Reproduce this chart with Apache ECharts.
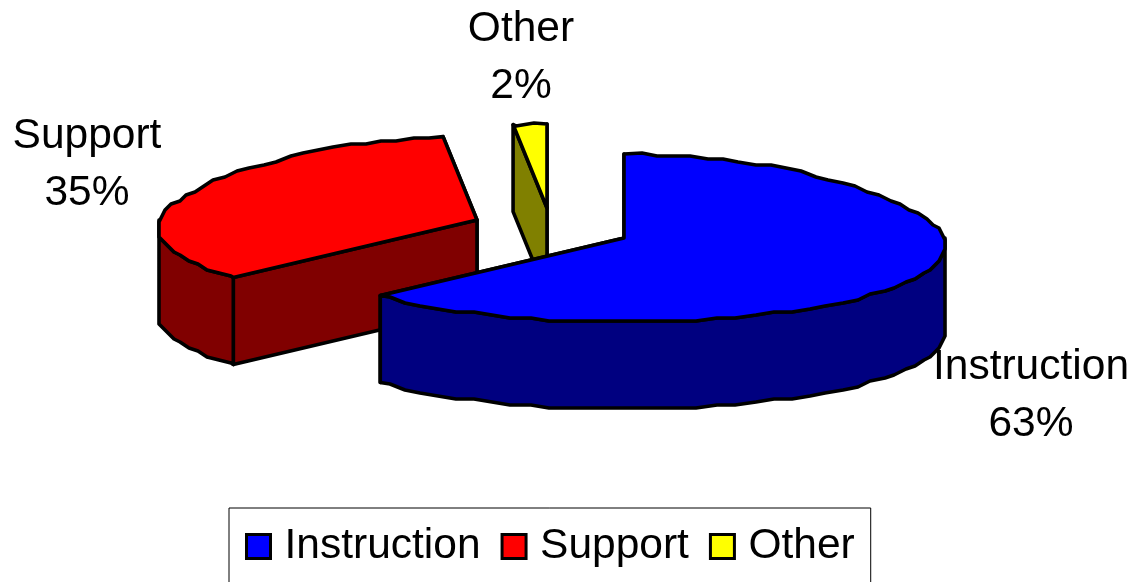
<!DOCTYPE html>
<html>
<head>
<meta charset="utf-8">
<title>Share of spending</title>
<style>
  html, body { margin: 0; padding: 0; background: #fff; }
  #chart { width: 1138px; height: 582px; }
</style>
<script src="https://cdn.jsdelivr.net/npm/echarts@6/dist/echarts.min.js"></script>
</head>
<body>
<div id="chart"></div>
<script>
const categories = ['Instruction', 'Support', 'Other'];
const shares = [63, 35, 2];
const faceColors = ['#0000ff', '#ff0000', '#ffff00'];
const wallColors = ['#000080', '#800000', '#808000'];

// Exploded wedge apexes and the anchor of each data label, in page pixels.
const apexes = [[624, 238], [477, 220], [547, 208]];
const labelAnchors = [[1031, 396], [87, 165], [521, 58]];

const RX_RIGHT = 321;
const RX_LEFT = 318;
const RY = 84;
const DEPTH = 87;
// The front of the disc is drawn a little wider than the back.
const WIDEN_BACK = 0.15;
const WIDEN_FRONT = 0.075;
const ARC_STEP = 3.5;       // degrees between outline vertices
const GRID = 3;             // the outline is snapped to a coarse raster
const FONT = '42.5px "Liberation Sans", Arial, sans-serif';
const toRad = Math.PI / 180;

function rimPoint(apex, deg, snap) {
  const a = deg * toRad;
  const c = Math.cos(a);
  const s = Math.sin(a);
  const scale = 1 - c * (c > 0 ? WIDEN_BACK : WIDEN_FRONT);
  const x = apex[0] + (s > 0 ? RX_RIGHT : RX_LEFT) * s * scale;
  const y = apex[1] - RY * c;
  return snap ? [Math.round(x / GRID) * GRID, Math.round(y / GRID) * GRID] : [x, y];
}

function arc(apex, from, to) {
  const pts = [rimPoint(apex, from, false)];
  const first = Math.ceil(from / ARC_STEP + 0.01) * ARC_STEP;
  for (let d = first; d < to - 0.01; d += ARC_STEP) pts.push(rimPoint(apex, d, true));
  pts.push(rimPoint(apex, to, false));
  return pts;
}

const drop = (pts) => pts.map((p) => [p[0], p[1] + DEPTH]);

function poly(points, fill) {
  return {
    type: 'polygon',
    shape: { points },
    style: { fill, stroke: '#000', lineWidth: 3.6, lineJoin: 'round' }
  };
}

function renderWedge(index) {
  return function (params, api) {
    const from = api.value(0) * 3.6;
    const to = (api.value(0) + api.value(1)) * 3.6;
    const apex = apexes[index];
    const face = faceColors[index];
    const wall = wallColors[index];

    // Cut faces along both radii; the one further back goes first.
    const radial = [from, to].map((deg) => {
      const rim = rimPoint(apex, deg, false);
      return [apex, rim, [rim[0], rim[1] + DEPTH], [apex[0], apex[1] + DEPTH]];
    }).sort((p, q) => p[1][1] - q[1][1]);
    const children = radial.map((pts) => poly(pts, wall));

    // Curved outer wall, only where the rim faces the viewer.
    const lo = Math.max(from, 90);
    const hi = Math.min(to, 270);
    if (hi > lo) {
      const rim = arc(apex, lo, hi);
      children.push(poly(rim.concat(drop(rim).reverse()), wall));
    }

    children.push(poly([apex].concat(arc(apex, from, to)), face));

    children.push({
      type: 'text',
      z2: 10,
      style: {
        text: categories[index] + '\n' + api.value(1) + '%',
        x: labelAnchors[index][0],
        y: labelAnchors[index][1],
        align: 'center',
        verticalAlign: 'middle',
        font: FONT,
        lineHeight: 57,
        fill: '#000'
      }
    });
    return { type: 'group', children };
  };
}

const starts = shares.map((_, i) => shares.slice(0, i).reduce((s, v) => s + v, 0));

// Painted back to front, so the smallest wedge comes first.
const series = [2, 1, 0].map((i) => ({
  type: 'custom',
  name: categories[i],
  coordinateSystem: 'none',
  silent: true,
  itemStyle: { color: faceColors[i] },
  renderItem: renderWedge(i),
  data: [[starts[i], shares[i]]]
}));

echarts.init(document.getElementById('chart'), null, { renderer: 'canvas' }).setOption({
  animation: false,
  backgroundColor: '#fff',
  legend: {
    data: categories,
    left: 229,
    top: 508,
    orient: 'horizontal',
    backgroundColor: '#fff',
    borderColor: '#000',
    borderWidth: 1,
    padding: [17, 16, 31, 16],
    itemGap: 20,
    itemWidth: 24,
    itemHeight: 24,
    icon: 'rect',
    itemStyle: { borderColor: '#000', borderWidth: 3 },
    textStyle: {
      color: '#000',
      fontFamily: '"Liberation Sans", Arial, sans-serif',
      fontSize: 42.5,
      padding: [0, 0, 0, 9]
    }
  },
  series
});
</script>
</body>
</html>
